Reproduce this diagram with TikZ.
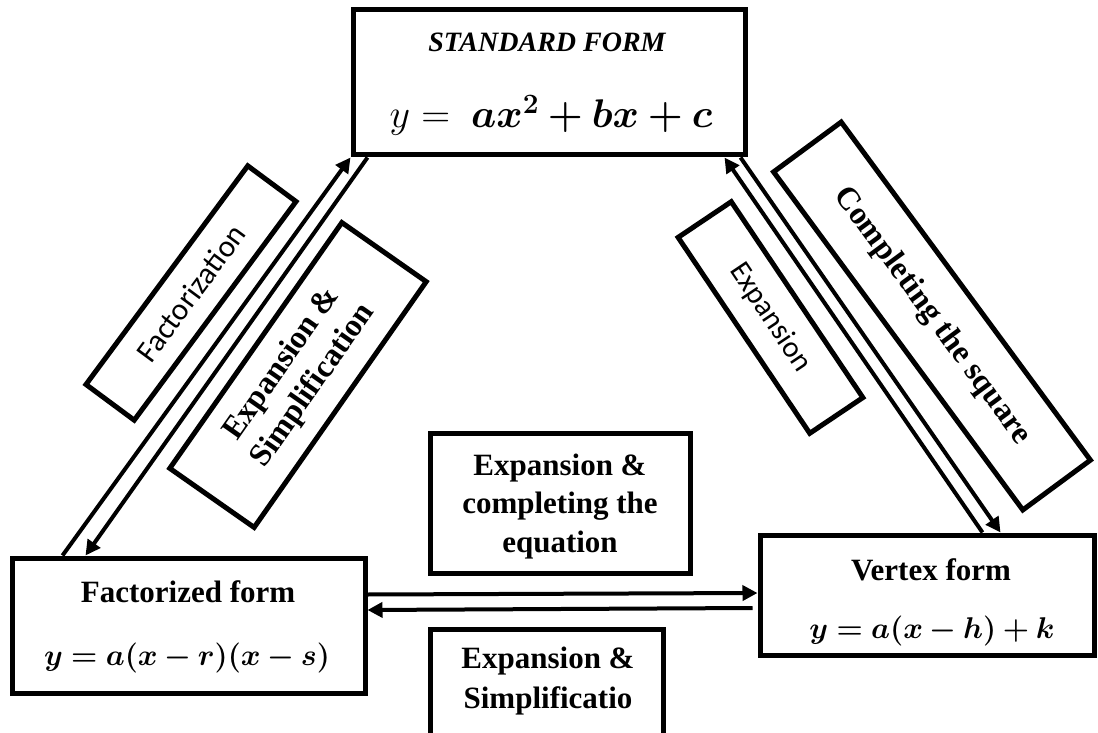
\RequirePackage{fix-cm}
\documentclass[tikz,border=0pt]{standalone}
\usepackage{fontspec}
\setmainfont{Liberation Serif}
\newfontfamily\calib{Carlito}
\usepackage{bm}
\usetikzlibrary{arrows.meta}
\begin{document}
\begin{tikzpicture}[x=1pt,y=-1pt,
  box/.style={draw, line width=5pt, inner sep=0pt},
  boldlab/.style={font=\fontsize{31}{38.5}\selectfont\bfseries, align=center},
  rotlab/.style={font=\fontsize{32}{38}\selectfont\bfseries, align=center},
  sanslab/.style={font=\calib\fontsize{30}{36}\selectfont},
  arr/.style={line width=4pt, -{Triangle[length=15pt,width=15pt]}},
]
\clip (0,0) rectangle (1098,733);
% main boxes
\node[box, minimum width=392pt, minimum height=145pt] (std) at (549,82.5) {};
\node[anchor=base, font=\fontsize{28}{30}\selectfont\bfseries\itshape] (stdt) at (547,52) {STANDARD FORM};
\node[anchor=base, font=\fontsize{40}{44}\selectfont] (stde) at (551,128) {$y = \ \bm{ax^2+bx+c}$};

\node[box, minimum width=353pt, minimum height=135pt] (fact) at (188.5,625.5) {};
\node[anchor=base, font=\fontsize{31}{36}\selectfont\bfseries] (factt) at (188,602) {Factorized form};
\node[anchor=base, font=\fontsize{30}{36}\selectfont] (facte) at (187,665) {$\bm{y=a(x-r)(x-s)}$};

\node[box, minimum width=334pt, minimum height=120pt] (vert) at (927,595) {};
\node[anchor=base, font=\fontsize{31}{36}\selectfont\bfseries] (vertt) at (931,580) {Vertex form};
\node[anchor=base, font=\fontsize{30}{36}\selectfont] (verte) at (932,638) {$\bm{y=a(x-h)+k}$};

% middle label boxes
\node[box, minimum width=260pt, minimum height=140pt] (mid) at (560,503) {};
\node[anchor=base, boldlab] (midt) at (560,552) {Expansion \&\\completing the\\equation};
\node[box, minimum width=233pt, minimum height=133pt, anchor=north] (bot) at (546.5,627) {};
\node[anchor=base, boldlab, font=\fontsize{31}{40}\selectfont\bfseries] (bott) at (548,708) {Expansion \&\\Simplificatio};

% rotated label boxes
\node[box, font=\calib\fontsize{31}{36}\selectfont, rotate=53.5, minimum width=272pt, minimum height=60pt] (lfac) at (191,293) {Factorization};
\node[box, rotlab, rotate=55, minimum width=300pt, minimum height=103pt] (les) at (298,375) {Expansion \&\\Simplification};
\node[box, sanslab, rotate=-56.1, minimum width=236pt, minimum height=64pt] (rexp) at (770.5,317.5) {Expansion};
\node[box, rotlab, rotate=-53.6, minimum width=420pt, minimum height=84pt] (rcomp) at (932,316) {Completing the square};

% connectors
\draw[arr] ([xshift=53pt]fact.north west) -- (std.south west);
\draw[arr] ([xshift=17pt]std.south west) -- ([xshift=76pt]fact.north west);
\draw[arr] ([xshift=225pt]vert.north west) -- ([xshift=-23pt]std.south east);
\draw[arr] ([xshift=-7pt]std.south east) -- ([xshift=243pt]vert.north west);
\draw[arr] ([yshift=31pt]fact.east) -- ([yshift=2pt]vert.west);
\draw[arr] ([xshift=-5pt,yshift=-13pt]vert.west) -- ([yshift=15.5pt]fact.east);
\end{tikzpicture}
\end{document}
